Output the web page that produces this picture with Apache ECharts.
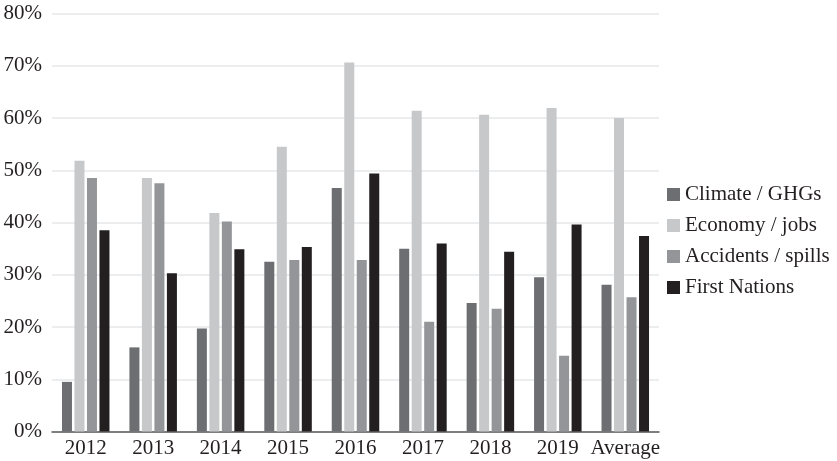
<!DOCTYPE html>
<html lang="en">
<head>
    <meta charset="UTF-8">
    <title>Issues by year</title>
    <script src="https://cdn.jsdelivr.net/npm/echarts@6/dist/echarts.min.js"></script>
    <style>
        html, body { margin: 0; padding: 0; background: #fff; }
        #chart { width: 837px; height: 461px; }
    </style>
</head>
<body>
    <div id="chart"></div>
    <script>
        var categories = ['2012', '2013', '2014', '2015', '2016', '2017', '2018', '2019', 'Average'];
        var climate = [9.5, 16.1, 19.7, 32.5, 46.6, 35.0, 24.6, 29.5, 28.1];
        var economy = [51.8, 48.5, 41.8, 54.5, 70.6, 61.4, 60.6, 61.9, 60.0];
        var accidents = [48.5, 47.5, 40.2, 32.8, 32.8, 21.0, 23.5, 14.5, 25.7];
        var firstNations = [38.5, 30.3, 34.9, 35.3, 49.4, 36.0, 34.4, 39.6, 37.4];
        var seriesNames = ['Climate / GHGs', 'Economy / jobs', 'Accidents / spills', 'First Nations'];
        var colors = ['#6d6e71', '#c7c8ca', '#939598', '#231f20'];

        var font = 'Liberation Serif';
        var myChart = echarts.init(document.getElementById('chart'));

        var allData = [climate, economy, accidents, firstNations];
        var series = allData.map(function (d, i) {
            return {
                name: seriesNames[i],
                type: 'bar',
                data: d,
                barWidth: 10,
                barGap: '25%',
                itemStyle: { color: colors[i] }
            };
        });

        myChart.setOption({
            animation: false,
            color: colors,
            grid: { left: 52, right: 178, top: 13.5, bottom: 29.5 },
            legend: {
                orient: 'vertical',
                left: 662,
                top: 179,
                itemWidth: 13,
                itemHeight: 13,
                itemGap: 10,
                icon: 'rect',
                textStyle: { fontFamily: font, fontSize: 21, color: '#231f20' },
                data: seriesNames
            },
            xAxis: {
                type: 'category',
                data: categories,
                axisTick: { show: false },
                axisLine: { lineStyle: { color: '#58595b', width: 1.5 } },
                axisLabel: { interval: 0, fontFamily: font, fontSize: 21, color: '#231f20', margin: 6 }
            },
            yAxis: {
                type: 'value',
                min: 0,
                max: 80,
                interval: 10,
                axisLine: { show: false },
                axisTick: { show: false },
                splitLine: { lineStyle: { color: '#e6e7e8', width: 1.5 } },
                axisLabel: {
                    fontFamily: font, fontSize: 21, color: '#231f20', margin: 10,
                    formatter: '{value}%'
                }
            },
            series: series
        });
    </script>
</body>
</html>
